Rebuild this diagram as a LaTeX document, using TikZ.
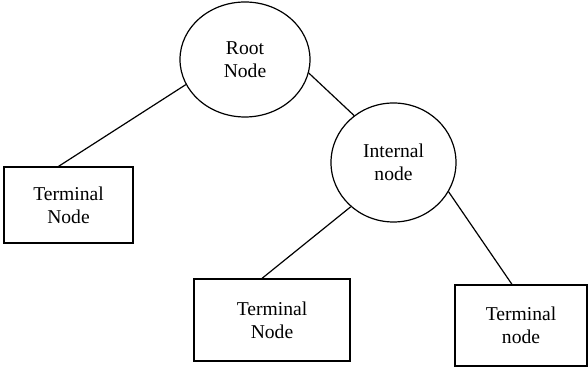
\documentclass[tikz,border=0pt]{standalone}
\usepackage{fontspec}
\setmainfont{Liberation Serif}
\usetikzlibrary{positioning,shapes.geometric}

\tikzset{
  treenode/.style={ellipse,draw,line width=0.6pt,inner sep=0pt,align=center,
    font=\fontsize{9.8}{11.5}\selectfont},
  leafnode/.style={rectangle,draw,line width=0.6pt,inner sep=0pt,align=center,
    font=\fontsize{9.8}{11.5}\selectfont},
  link/.style={line width=0.6pt}
}

\begin{document}
\begin{tikzpicture}[on grid]

  \useasboundingbox (-122.5pt,29.75pt) rectangle (171.5pt,-153.75pt);

  % Root
  \node [treenode,minimum width=65pt,minimum height=57.5pt] (root) at (0,0) {Root\\Node};

  % Internal
  \node [treenode,minimum width=62.5pt,minimum height=59.5pt,below right=51.5pt and 74.25pt of root] (inner) {Internal\\node};

  % Terminal 1
  \node [leafnode,minimum width=64.5pt,minimum height=38pt,below left=72.75pt and 88.25pt of root] (leafa) {Terminal\\Node};

  % Terminal 2
  \node [leafnode,minimum width=78pt,minimum height=41pt,below left=78.75pt and 60.75pt of inner] (leafb) {Terminal\\Node};

  % Terminal 3
  \node [leafnode,minimum width=66pt,minimum height=40.5pt,below right=81.5pt and 63.75pt of inner] (leafc) {Terminal\\node};

  % Links
  \draw [link] (root.203) -- ([xshift=-5pt]leafa.north);
  \draw [link] (root.-12) -- (inner.130);
  \draw [link] (inner.226) -- ([xshift=-5pt]leafb.north);
  \draw [link] (inner.-28) -- ([xshift=-4.5pt]leafc.north);

\end{tikzpicture}
\end{document}
